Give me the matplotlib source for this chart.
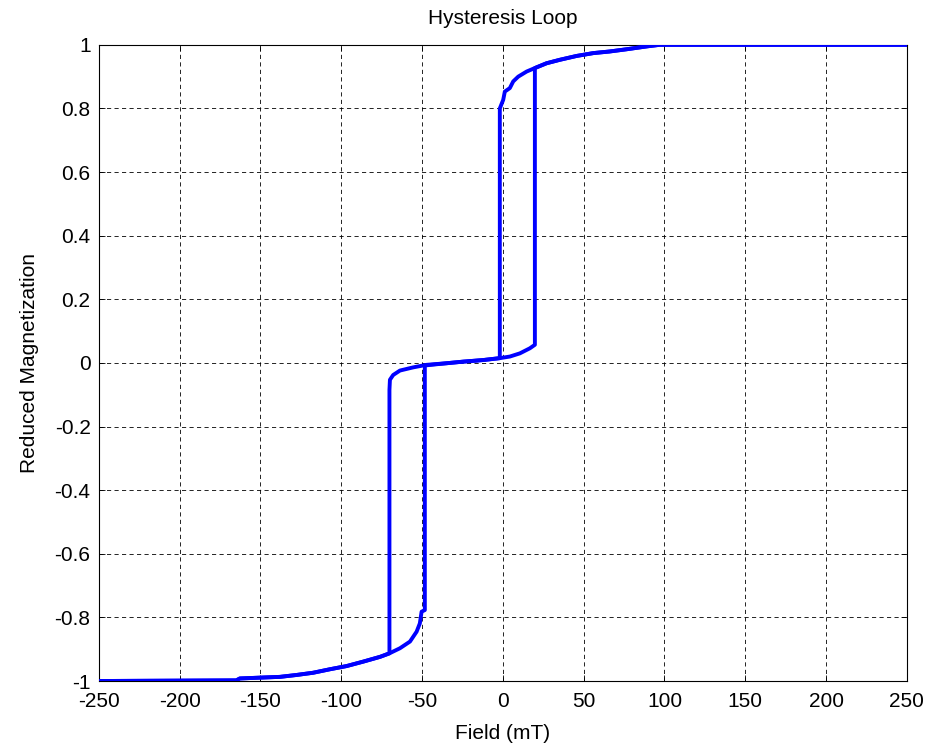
import numpy as np
import matplotlib
matplotlib.use('Agg')
import matplotlib.pyplot as plt

plt.rcParams['font.family'] = ['Liberation Sans', 'DejaVu Sans']

# descending branch (field swept from +250 down to -250)
desc_field = [250, 110, 97, 89, 76.5, 66, 56, 45.6, 35.3, 27, 19.8, 14.7, 9.5, 6.4, 4.3, 1.2, 0.2, -1.9,
              -1.9, -12.2, -24.6, -34.8, -47.2, -55.5, -63.7, -67.9, -69.9, -70.2,
              -70.2, -76, -86.4, -96.7, -107, -117.4, -127.7, -138, -148.3, -162.8, -165, -250]
desc_mag = [1.0, 1.0, 1.0, 0.995, 0.986, 0.979, 0.974, 0.965, 0.953, 0.942, 0.927, 0.916, 0.90, 0.885, 0.864, 0.853, 0.827, 0.80,
            0.015, 0.009, 0.004, -0.001, -0.006, -0.014, -0.024, -0.038, -0.053, -0.085,
            -0.913, -0.924, -0.939, -0.953, -0.963, -0.974, -0.981, -0.987, -0.989, -0.992, -0.998, -1.0]

# ascending branch (field swept from -250 up to +250)
asc_field = [-250, -165, -162.8, -148.3, -138, -127.7, -117.4, -107, -96.7, -86.4, -76, -70.2,
             -63.7, -57.5, -53.4, -51.4, -50.3, -48.3,
             -48.3, -34.8, -24.6, -12.2, -1.9, 4.3, 10.5, 16.7, 19.8,
             19.8, 27, 35.3, 45.6, 56, 66, 76.5, 89, 97, 110, 250]
asc_mag = [-1.0, -0.998, -0.992, -0.989, -0.987, -0.981, -0.974, -0.963, -0.953, -0.939, -0.924, -0.913,
           -0.897, -0.876, -0.845, -0.819, -0.782, -0.777,
           -0.008, -0.001, 0.004, 0.009, 0.015, 0.02, 0.03, 0.046, 0.057,
           0.927, 0.942, 0.953, 0.965, 0.974, 0.979, 0.986, 0.995, 1.0, 1.0, 1.0]

xticks = [-250, -200, -150, -100, -50, 0, 50, 100, 150, 200, 250]
yticks = [-1, -0.8, -0.6, -0.4, -0.2, 0, 0.2, 0.4, 0.6, 0.8, 1]
ytick_labels = ['-1', '-0.8', '-0.6', '-0.4', '-0.2', '0', '0.2', '0.4', '0.6', '0.8', '1']
xtick_labels = ['-250', '-200', '-150', '-100', '-50', '0', '50', '100', '150', '200', '250']

fig = plt.figure(figsize=(9.33, 7.52), dpi=100)
ax = fig.add_axes([0.106, 0.0944, 0.866, 0.846])

ax.plot(desc_field, desc_mag, color='#0000ff', lw=2.8, zorder=3)
ax.plot(asc_field, asc_mag, color='#0000ff', lw=2.8, zorder=3)

ax.set_xlim(-250, 250)
ax.set_ylim(-1, 1)
ax.set_xticks(xticks)
ax.set_xticklabels(xtick_labels)
ax.set_yticks(yticks)
ax.set_yticklabels(ytick_labels)
ax.tick_params(direction='in', length=4, width=0.6, top=True, right=True, labelsize=15)
ax.tick_params(axis='x', pad=8)
ax.tick_params(axis='y', pad=6)
ax.grid(True, color='black', lw=0.6, linestyle=(0, (5, 4)), zorder=0)
for s in ax.spines.values():
    s.set_linewidth(0.8)

ax.set_title('Hysteresis Loop', fontsize=15, pad=15)
ax.set_xlabel('Field (mT)', fontsize=15, labelpad=9)
ax.set_ylabel('Reduced Magnetization', fontsize=15, labelpad=11)

fig.savefig('out.png', dpi=100)
